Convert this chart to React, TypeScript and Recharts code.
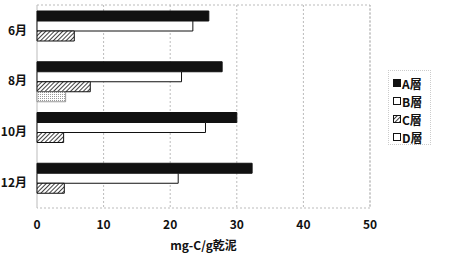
import React from 'react';
import { BarChart, Bar, XAxis, YAxis, CartesianGrid, ReferenceArea } from 'recharts';

const months = ['6月', '8月', '10月', '12月'];
const layerA = [25.8, 27.8, 30.0, 32.3];
const layerB = [23.4, 21.7, 25.3, 21.2];
const layerC = [5.6, 8.0, 4.0, 4.1];
const layerD = [0, 4.3, 0, 0];
const xTicks = [0, 10, 20, 30, 40, 50];

const data = months.map((m, i) => ({
  month: m,
  A: layerA[i],
  B: layerB[i],
  C: layerC[i],
  D: layerD[i],
}));

const font = '"Noto Sans CJK JP", "Liberation Sans", sans-serif';

const legendItems = [
  { name: 'A層', fill: '#111' },
  { name: 'B層', fill: '#fff' },
  { name: 'C層', fill: 'url(#hatch)' },
  { name: 'D層', fill: '#fff' },
];

const Legend = () => (
  <div
    style={{
      position: 'absolute',
      left: 388,
      top: 70,
      width: 43,
      height: 75,
      border: '1px dotted #ccc',
      boxSizing: 'border-box',
      paddingTop: 3,
      paddingLeft: 4,
    }}
  >
    {legendItems.map((it) => (
      <div key={it.name} style={{ display: 'flex', alignItems: 'center', height: 18 }}>
        <svg width={8} height={8} style={{ marginRight: 1 }}>
          <rect x={0.5} y={0.5} width={7} height={7} fill={it.fill} stroke="#111" strokeWidth={1} />
        </svg>
        <span style={{ fontFamily: font, fontWeight: 'bold', fontSize: 12, color: '#111' }}>{it.name}</span>
      </div>
    ))}
  </div>
);

const tickStyle = { fontFamily: font, fontWeight: 'bold', fontSize: 12, fill: '#111' };

const App = () => {
  return (
    <div style={{ position: 'absolute', left: 0, top: 0, width: 450, height: 259, background: '#fff' }}>
      <svg width={0} height={0} style={{ position: 'absolute' }}>
        <defs>
          <pattern id="hatch" width={3} height={3} patternUnits="userSpaceOnUse" patternTransform="rotate(45)">
            <rect width={3} height={3} fill="#fff" />
            <line x1={0} y1={0} x2={0} y2={3} stroke="#111" strokeWidth={1.6} />
          </pattern>
          <pattern id="dots" width={2} height={2} patternUnits="userSpaceOnUse">
            <rect width={2} height={2} fill="#fff" />
            <rect width={1} height={1} fill="#999" />
          </pattern>
        </defs>
      </svg>
      <BarChart
        width={450}
        height={259}
        data={data}
        layout="vertical"
        margin={{ top: 5, right: 80, left: 0, bottom: 0 }}
        barCategoryGap={6}
        barGap={0}
      >
        <CartesianGrid horizontal={false} stroke="#bbb" strokeDasharray="2 2" />
        <ReferenceArea x1={0} x2={50} fill="none" stroke="#bbb" strokeDasharray="2 2" ifOverflow="visible" />
        <XAxis
          type="number"
          domain={[0, 50]}
          ticks={xTicks}
          axisLine={false}
          tickLine={false}
          height={51}
          tickMargin={6}
          tick={tickStyle}
          label={{
            value: 'mg-C/g乾泥',
            position: 'insideBottom',
            offset: 9,
            style: tickStyle,
          }}
        />
        <YAxis
          type="category"
          dataKey="month"
          width={37}
          axisLine={false}
          tickLine={false}
          tickMargin={4}
          tick={tickStyle}
        />
        <Bar dataKey="A" fill="#111" stroke="#111" strokeWidth={1} isAnimationActive={false} />
        <Bar dataKey="B" fill="#fff" stroke="#111" strokeWidth={1} isAnimationActive={false} />
        <Bar dataKey="C" fill="url(#hatch)" stroke="#111" strokeWidth={1} isAnimationActive={false} />
        <Bar dataKey="D" fill="url(#dots)" stroke="#555" strokeWidth={0.6} isAnimationActive={false} />
      </BarChart>
      <Legend />
    </div>
  );
};

export default App;
